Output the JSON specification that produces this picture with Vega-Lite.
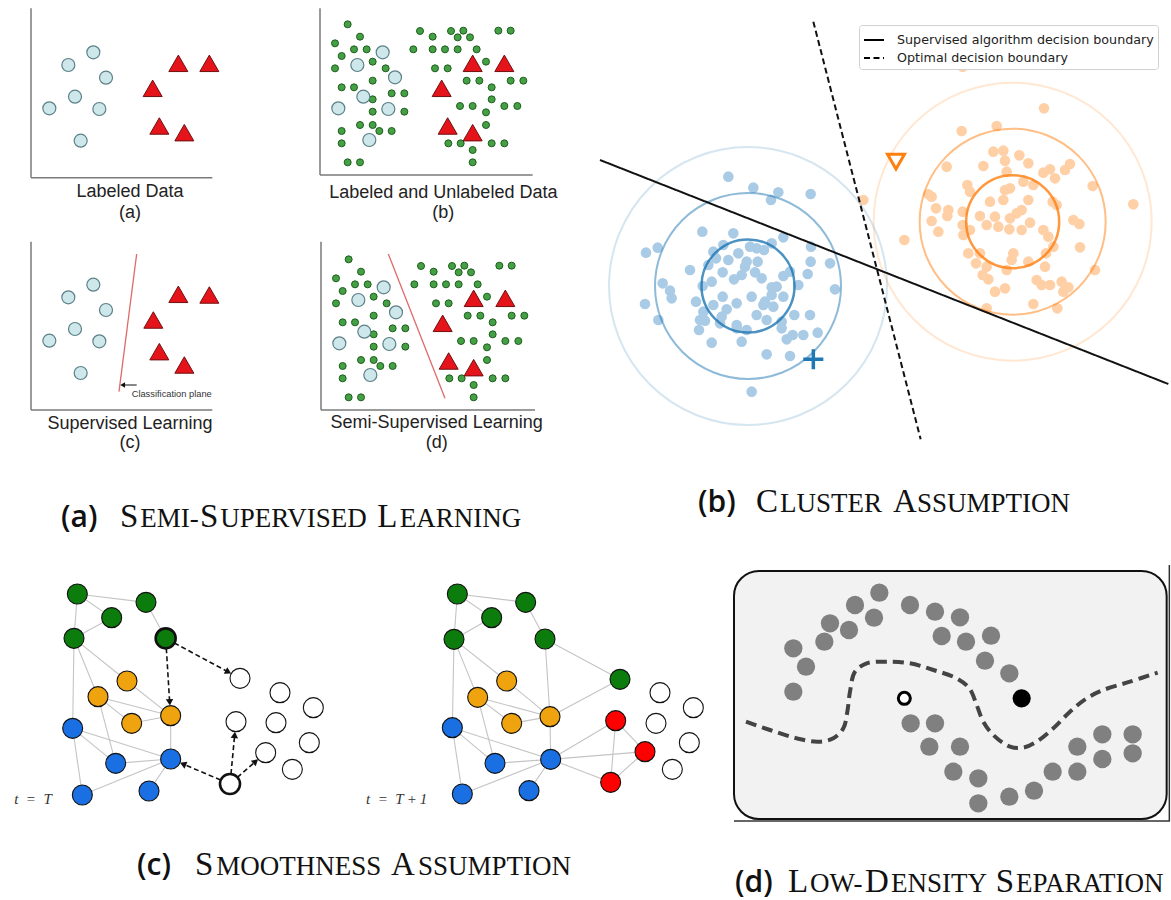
{
  "$schema": "https://vega.github.io/schema/vega-lite/v6.json",
  "padding": 0,
  "background": "white",
  "spacing": 0,
  "bounds": "full",
  "config": {"view": {"stroke": null}, "concat": {"spacing": 0}},
  "resolve": {"scale": {"strokeDash": "independent"}, "legend": {"strokeDash": "independent"}},
  "datasets": {
    "lab_circ": [{"x":187,"y":376},{"x":112,"y":338},{"x":225,"y":300},{"x":132,"y":243},{"x":55,"y":208},{"x":205,"y":206},{"x":149,"y":111}],
    "tri_a": [{"x":442,"y":343},{"x":535,"y":343},{"x":365,"y":268},{"x":385,"y":155},{"x":460,"y":135}],
    "tri_c": [{"x":442,"y":347},{"x":535,"y":345},{"x":367,"y":270},{"x":385,"y":175},{"x":460,"y":135}],
    "bd_circ": [{"x":188,"y":368},{"x":112,"y":330},{"x":225,"y":293},{"x":130,"y":235},{"x":55,"y":200},{"x":205,"y":198},{"x":148,"y":105}],
    "bd_tri": [{"x":458,"y":335},{"x":553,"y":335},{"x":365,"y":260},{"x":383,"y":147},{"x":458,"y":127}],
    "bd_green": [{"x":83,"y":452},{"x":120,"y":415},{"x":45,"y":395},{"x":300,"y":432},{"x":338,"y":415},{"x":393,"y":432},{"x":430,"y":433},{"x":413,"y":413},{"x":450,"y":413},{"x":535,"y":433},{"x":572,"y":433},{"x":65,"y":357},{"x":102,"y":377},{"x":140,"y":377},{"x":280,"y":377},{"x":338,"y":377},{"x":375,"y":377},{"x":413,"y":377},{"x":470,"y":377},{"x":45,"y":320},{"x":158,"y":340},{"x":197,"y":320},{"x":345,"y":320},{"x":383,"y":320},{"x":498,"y":340},{"x":158,"y":283},{"x":440,"y":283},{"x":478,"y":283},{"x":572,"y":283},{"x":610,"y":283},{"x":65,"y":263},{"x":102,"y":263},{"x":215,"y":245},{"x":253,"y":245},{"x":515,"y":263},{"x":158,"y":227},{"x":515,"y":227},{"x":158,"y":190},{"x":253,"y":190},{"x":420,"y":207},{"x":458,"y":207},{"x":553,"y":207},{"x":592,"y":207},{"x":498,"y":188},{"x":120,"y":150},{"x":158,"y":150},{"x":178,"y":132},{"x":215,"y":132},{"x":65,"y":132},{"x":498,"y":150},{"x":65,"y":95},{"x":385,"y":95},{"x":422,"y":95},{"x":515,"y":95},{"x":553,"y":95},{"x":458,"y":75},{"x":83,"y":38},{"x":120,"y":38},{"x":458,"y":38}],
    "blue_pts": [{"x":445,"y":1120},{"x":520,"y":1087},{"x":595,"y":1073},{"x":573,"y":1050},{"x":692,"y":1068},{"x":367,"y":955},{"x":460,"y":950},{"x":610,"y":938},{"x":575,"y":920},{"x":510,"y":910},{"x":530,"y":905},{"x":552,"y":900},{"x":693,"y":910},{"x":198,"y":892},{"x":233,"y":907},{"x":400,"y":895},{"x":430,"y":915},{"x":475,"y":890},{"x":500,"y":865},{"x":533,"y":865},{"x":445,"y":870},{"x":408,"y":875},{"x":385,"y":855},{"x":692,"y":865},{"x":750,"y":860},{"x":330,"y":840},{"x":428,"y":833},{"x":485,"y":825},{"x":525,"y":833},{"x":462,"y":812},{"x":395,"y":805},{"x":545,"y":815},{"x":610,"y":822},{"x":683,"y":828},{"x":630,"y":835},{"x":248,"y":800},{"x":270,"y":778},{"x":368,"y":792},{"x":495,"y":850},{"x":575,"y":788},{"x":590,"y":790},{"x":655,"y":795},{"x":275,"y":755},{"x":195,"y":738},{"x":348,"y":745},{"x":428,"y":760},{"x":515,"y":760},{"x":555,"y":745},{"x":575,"y":765},{"x":610,"y":760},{"x":765,"y":782},{"x":370,"y":715},{"x":400,"y":735},{"x":440,"y":722},{"x":470,"y":740},{"x":550,"y":735},{"x":580,"y":730},{"x":425,"y":700},{"x":360,"y":690},{"x":375,"y":688},{"x":420,"y":680},{"x":470,"y":675},{"x":530,"y":705},{"x":560,"y":690},{"x":605,"y":685},{"x":643,"y":705},{"x":690,"y":705},{"x":235,"y":690},{"x":357,"y":660},{"x":470,"y":665},{"x":500,"y":660},{"x":605,"y":665},{"x":620,"y":632},{"x":638,"y":645},{"x":670,"y":645},{"x":713,"y":652},{"x":395,"y":622},{"x":485,"y":625},{"x":560,"y":587},{"x":630,"y":582},{"x":515,"y":475}],
    "orange_pts": [{"x":850,"y":1050},{"x":1148,"y":1450},{"x":1392,"y":1325},{"x":1145,"y":1257},{"x":1250,"y":1272},{"x":1240,"y":1195},{"x":1270,"y":1198},{"x":1275,"y":1168},{"x":1318,"y":1184},{"x":1345,"y":1160},{"x":1210,"y":1152},{"x":1100,"y":1150},{"x":1470,"y":1158},{"x":1455,"y":1140},{"x":1280,"y":1135},{"x":1390,"y":1132},{"x":1410,"y":1142},{"x":1425,"y":1115},{"x":1330,"y":1105},{"x":1360,"y":1095},{"x":1538,"y":1092},{"x":1162,"y":1095},{"x":1170,"y":1075},{"x":1045,"y":1067},{"x":1055,"y":1060},{"x":1275,"y":1080},{"x":1290,"y":1085},{"x":1230,"y":1045},{"x":1270,"y":1050},{"x":1345,"y":1050},{"x":1418,"y":1045},{"x":1430,"y":1035},{"x":1068,"y":1025},{"x":1105,"y":1020},{"x":1102,"y":1002},{"x":1148,"y":1015},{"x":1200,"y":1002},{"x":1245,"y":1000},{"x":1290,"y":995},{"x":1310,"y":1010},{"x":1325,"y":1020},{"x":1350,"y":982},{"x":1220,"y":975},{"x":1255,"y":970},{"x":1480,"y":990},{"x":1498,"y":978},{"x":1055,"y":987},{"x":1148,"y":975},{"x":1170,"y":960},{"x":1075,"y":955},{"x":1150,"y":945},{"x":1288,"y":962},{"x":1325,"y":960},{"x":1390,"y":960},{"x":1405,"y":940},{"x":1420,"y":910},{"x":1500,"y":908},{"x":973,"y":930},{"x":1165,"y":890},{"x":1200,"y":890},{"x":1300,"y":890},{"x":1295,"y":870},{"x":1345,"y":865},{"x":1398,"y":890},{"x":1188,"y":860},{"x":1220,"y":850},{"x":1280,"y":840},{"x":1395,"y":850},{"x":1545,"y":840},{"x":1208,"y":825},{"x":1225,"y":812},{"x":1370,"y":810},{"x":1385,"y":795},{"x":1410,"y":795},{"x":1445,"y":805},{"x":1465,"y":788},{"x":1450,"y":775},{"x":1245,"y":775},{"x":1275,"y":785},{"x":1360,"y":738},{"x":1432,"y":725},{"x":1220,"y":725},{"x":1660,"y":1037}],
    "rings": [{"cluster":"blue","ring":"inner","x":504,"y":792},{"cluster":"blue","ring":"middle","x":504,"y":792},{"cluster":"blue","ring":"outer","x":504,"y":792},{"cluster":"orange","ring":"inner","x":1298,"y":985},{"cluster":"orange","ring":"middle","x":1298,"y":985},{"cluster":"orange","ring":"outer","x":1298,"y":985}],
    "bounds": [{"boundary":"Supervised algorithm decision boundary","x":60,"y":1170},{"boundary":"Supervised algorithm decision boundary","x":1765,"y":498},{"boundary":"Optimal decision boundary","x":700,"y":1585},{"boundary":"Optimal decision boundary","x":1022,"y":332}],
    "cnodes": [
      {"id":"T:G1","grp":"green","x":232,"y":918},{"id":"T:G2","grp":"green","x":438,"y":893},{"id":"T:G3","grp":"green","x":335,"y":847},{"id":"T:G4","grp":"green","x":222,"y":785},{"id":"T:G5","grp":"green","x":497,"y":785},
      {"id":"T:O1","grp":"orange","x":381,"y":657},{"id":"T:O2","grp":"orange","x":294,"y":610},{"id":"T:O3","grp":"orange","x":395,"y":530},{"id":"T:O4","grp":"orange","x":512,"y":553},
      {"id":"T:B1","grp":"blue","x":218,"y":515},{"id":"T:B2","grp":"blue","x":347,"y":410},{"id":"T:B3","grp":"blue","x":512,"y":423},{"id":"T:B4","grp":"blue","x":247,"y":315},{"id":"T:B5","grp":"blue","x":447,"y":327},
      {"id":"T:W1","grp":"white","x":720,"y":665},{"id":"T:W2","grp":"white","x":708,"y":535},{"id":"T:W3","grp":"white","x":797,"y":442},{"id":"T:W4","grp":"white","x":690,"y":348},{"id":"T:W5","grp":"white","x":840,"y":622},{"id":"T:W6","grp":"white","x":828,"y":532},{"id":"T:W7","grp":"white","x":940,"y":577},{"id":"T:W8","grp":"white","x":928,"y":472},{"id":"T:W9","grp":"white","x":877,"y":392},
      {"id":"U:G1","grp":"green","x":1372,"y":918},{"id":"U:G2","grp":"green","x":1577,"y":893},{"id":"U:G3","grp":"green","x":1475,"y":847},{"id":"U:G4","grp":"green","x":1362,"y":782},{"id":"U:G5","grp":"green","x":1635,"y":783},{"id":"U:G6","grp":"green","x":1860,"y":662},
      {"id":"U:O1","grp":"orange","x":1520,"y":657},{"id":"U:O2","grp":"orange","x":1433,"y":608},{"id":"U:O3","grp":"orange","x":1535,"y":530},{"id":"U:O4","grp":"orange","x":1650,"y":550},
      {"id":"U:B1","grp":"blue","x":1357,"y":517},{"id":"U:B2","grp":"blue","x":1485,"y":410},{"id":"U:B3","grp":"blue","x":1652,"y":422},{"id":"U:B4","grp":"blue","x":1387,"y":318},{"id":"U:B5","grp":"blue","x":1587,"y":328},
      {"id":"U:R1","grp":"red","x":1847,"y":538},{"id":"U:R2","grp":"red","x":1935,"y":445},{"id":"U:R3","grp":"red","x":1832,"y":353},
      {"id":"U:W1","grp":"white","x":1980,"y":622},{"id":"U:W2","grp":"white","x":1968,"y":530},{"id":"U:W3","grp":"white","x":2080,"y":577},{"id":"U:W4","grp":"white","x":2068,"y":472},{"id":"U:W5","grp":"white","x":2017,"y":392}
    ],
    "cedges": [
      {"s":"T:G1","t":"T:G2"},{"s":"T:G1","t":"T:G3"},{"s":"T:G1","t":"T:G4"},{"s":"T:G3","t":"T:G4"},{"s":"T:G2","t":"T:G5"},{"s":"T:G4","t":"T:O1"},{"s":"T:G4","t":"T:O2"},{"s":"T:G4","t":"T:B1"},{"s":"T:O1","t":"T:O4"},{"s":"T:O2","t":"T:O4"},{"s":"T:O2","t":"T:O3"},{"s":"T:O3","t":"T:O4"},{"s":"T:O2","t":"T:B2"},{"s":"T:O4","t":"T:B3"},{"s":"T:B1","t":"T:B2"},{"s":"T:B1","t":"T:B3"},{"s":"T:B1","t":"T:B4"},{"s":"T:B2","t":"T:B3"},{"s":"T:B3","t":"T:B4"},{"s":"T:B3","t":"T:B5"},
      {"s":"U:G1","t":"U:G2"},{"s":"U:G1","t":"U:G3"},{"s":"U:G1","t":"U:G4"},{"s":"U:G3","t":"U:G4"},{"s":"U:G2","t":"U:G5"},{"s":"U:G4","t":"U:O1"},{"s":"U:G4","t":"U:O2"},{"s":"U:G4","t":"U:B1"},{"s":"U:O1","t":"U:O4"},{"s":"U:O2","t":"U:O4"},{"s":"U:O2","t":"U:O3"},{"s":"U:O3","t":"U:O4"},{"s":"U:O2","t":"U:B2"},{"s":"U:O4","t":"U:B3"},{"s":"U:B1","t":"U:B2"},{"s":"U:B1","t":"U:B3"},{"s":"U:B1","t":"U:B4"},{"s":"U:B2","t":"U:B3"},{"s":"U:B3","t":"U:B4"},{"s":"U:B3","t":"U:B5"},
      {"s":"U:G5","t":"U:O4"},{"s":"U:G5","t":"U:G6"},{"s":"U:G6","t":"U:O4"},{"s":"U:B3","t":"U:R1"},{"s":"U:B3","t":"U:R2"},{"s":"U:B3","t":"U:R3"},{"s":"U:R1","t":"U:R2"},{"s":"U:R1","t":"U:R3"},{"s":"U:R2","t":"U:R3"}
    ],
    "carrows": [{"x":523,"y":771,"x2":685,"y2":684},{"x":499,"y":755,"x2":509,"y2":593},{"x":662,"y":360,"x2":549,"y2":408},{"x":693,"y":378,"x2":704,"y2":495},{"x":712,"y":368,"x2":767,"y2":416}],
    "dgray": [{"x":448,"y":922},{"x":375,"y":885},{"x":432,"y":847},{"x":300,"y":830},{"x":357,"y":810},{"x":190,"y":755},{"x":283,"y":775},{"x":228,"y":700},{"x":190,"y":625},{"x":540,"y":885},{"x":615,"y":865},{"x":690,"y":848},{"x":635,"y":792},{"x":708,"y":775},{"x":783,"y":793},{"x":765,"y":718},{"x":838,"y":680},{"x":542,"y":530},{"x":615,"y":530},{"x":598,"y":460},{"x":690,"y":460},{"x":670,"y":385},{"x":745,"y":365},{"x":745,"y":290},{"x":838,"y":310},{"x":912,"y":328},{"x":968,"y":385},{"x":1042,"y":385},{"x":1042,"y":460},{"x":1117,"y":423},{"x":1117,"y":497},{"x":1208,"y":497},{"x":1208,"y":440}],
    "dcurve": [{"x":48,"y":535},{"x":120,"y":510},{"x":200,"y":485},{"x":265,"y":475},{"x":310,"y":485},{"x":340,"y":515},{"x":352,"y":565},{"x":360,"y":625},{"x":375,"y":685},{"x":410,"y":710},{"x":470,"y":715},{"x":540,"y":710},{"x":610,"y":690},{"x":680,"y":665},{"x":718,"y":635},{"x":740,"y":585},{"x":760,"y":535},{"x":790,"y":495},{"x":840,"y":460},{"x":880,"y":457},{"x":920,"y":475},{"x":970,"y":515},{"x":1020,"y":565},{"x":1070,"y":605},{"x":1120,"y":630},{"x":1200,"y":655},{"x":1283,"y":682}],
    "cap_a": [{"x":360,"y":68,"label":"S","cap":"big"},{"x":421,"y":68,"label":"EMI-","cap":"small"},{"x":600,"y":68,"label":"S","cap":"big"},{"x":661,"y":68,"label":"UPERVISED","cap":"small"},{"x":1132,"y":68,"label":"L","cap":"big"},{"x":1199,"y":68,"label":"EARNING","cap":"small"}],
    "cap_b": [{"x":528,"y":115,"label":"C","cap":"big"},{"x":600,"y":115,"label":"LUSTER","cap":"small"},{"x":939,"y":115,"label":"A","cap":"big"},{"x":1011,"y":115,"label":"SSUMPTION","cap":"small"}],
    "cap_c": [{"x":585,"y":76,"label":"S","cap":"big"},{"x":649,"y":76,"label":"MOOTHNESS","cap":"small"},{"x":1173,"y":76,"label":"A","cap":"big"},{"x":1254,"y":76,"label":"SSUMPTION","cap":"small"}],
    "cap_d": [{"x":174,"y":25,"label":"L","cap":"big"},{"x":240,"y":25,"label":"OW-","cap":"small"},{"x":405,"y":25,"label":"D","cap":"big"},{"x":483,"y":25,"label":"ENSITY","cap":"small"},{"x":797,"y":25,"label":"S","cap":"big"},{"x":858,"y":25,"label":"EPARATION","cap":"small"}]
  },
  "vconcat": [
    {
      "hconcat": [
        {
          "vconcat": [
            {
              "hconcat": [
                {
                  "width": 290, "height": 230,
                  "encoding": {
                    "x": {"field": "x", "type": "quantitative", "scale": {"domain": [-93, 777], "nice": false, "zero": false}, "axis": null},
                    "y": {"field": "y", "type": "quantitative", "scale": {"domain": [-157, 533], "nice": false, "zero": false}, "axis": null}
                  },
                  "layer": [
                    {"data": {"values": [{"x":0,"y":0,"x2":0,"y2":508},{"x":0,"y":0,"x2":544,"y2":0}]}, "mark": {"type": "rule", "color": "#7a7a7a", "strokeWidth": 1.5}, "encoding": {"x2": {"field": "x2"}, "y2": {"field": "y2"}}},
                    {"data": {"name": "lab_circ"}, "mark": {"type": "point", "shape": "circle", "filled": true, "fill": "#cde7eb", "stroke": "#5c8087", "strokeWidth": 1.2, "size": 169, "opacity": 1}},
                    {"data": {"name": "tri_a"}, "mark": {"type": "point", "shape": "triangle-up", "filled": true, "fill": "#e5141b", "stroke": "#701010", "strokeWidth": 1, "size": 361, "opacity": 1}},
                    {"data": {"values": [{"x":297,"y":-42,"label":"Labeled Data"},{"x":297,"y":-107,"label":"(a)"}]}, "mark": {"type": "text", "font": "Liberation Sans", "fontSize": 18, "color": "#222222", "align": "center", "baseline": "middle"}, "encoding": {"text": {"field": "label", "type": "nominal"}}}
                  ]
                },
                {
                  "width": 290, "height": 230,
                  "encoding": {
                    "x": {"field": "x", "type": "quantitative", "scale": {"domain": [-90, 780], "nice": false, "zero": false}, "axis": null},
                    "y": {"field": "y", "type": "quantitative", "scale": {"domain": [-165, 525], "nice": false, "zero": false}, "axis": null}
                  },
                  "layer": [
                    {"data": {"values": [{"x":0,"y":0,"x2":0,"y2":500},{"x":0,"y":0,"x2":638,"y2":0}]}, "mark": {"type": "rule", "color": "#7a7a7a", "strokeWidth": 1.5}, "encoding": {"x2": {"field": "x2"}, "y2": {"field": "y2"}}},
                    {"data": {"name": "bd_green"}, "mark": {"type": "point", "shape": "circle", "filled": true, "fill": "#45a045", "stroke": "#1d5e1d", "strokeWidth": 1, "size": 49, "opacity": 1}},
                    {"data": {"name": "bd_circ"}, "mark": {"type": "point", "shape": "circle", "filled": true, "fill": "#cde7eb", "stroke": "#5c8087", "strokeWidth": 1.2, "size": 169, "opacity": 1}},
                    {"data": {"name": "bd_tri"}, "mark": {"type": "point", "shape": "triangle-up", "filled": true, "fill": "#e5141b", "stroke": "#701010", "strokeWidth": 1, "size": 361, "opacity": 1}},
                    {"data": {"values": [{"x":370,"y":-55,"label":"Labeled and Unlabeled Data"},{"x":370,"y":-115,"label":"(b)"}]}, "mark": {"type": "text", "font": "Liberation Sans", "fontSize": 18, "color": "#222222", "align": "center", "baseline": "middle"}, "encoding": {"text": {"field": "label", "type": "nominal"}}}
                  ]
                }
              ],
              "spacing": 0, "bounds": "flush"
            },
            {
              "hconcat": [
                {
                  "width": 290, "height": 235,
                  "encoding": {
                    "x": {"field": "x", "type": "quantitative", "scale": {"domain": [-93, 777], "nice": false, "zero": false}, "axis": null},
                    "y": {"field": "y", "type": "quantitative", "scale": {"domain": [-165, 540], "nice": false, "zero": false}, "axis": null}
                  },
                  "layer": [
                    {"data": {"values": [{"x":0,"y":0,"x2":0,"y2":505},{"x":0,"y":0,"x2":544,"y2":0}]}, "mark": {"type": "rule", "color": "#7a7a7a", "strokeWidth": 1.5}, "encoding": {"x2": {"field": "x2"}, "y2": {"field": "y2"}}},
                    {"data": {"values": [{"x":317,"y":468,"x2":264,"y2":55}]}, "mark": {"type": "rule", "color": "#e06a6a", "strokeWidth": 1.3}, "encoding": {"x2": {"field": "x2"}, "y2": {"field": "y2"}}},
                    {"data": {"values": [{"x":317,"y":75,"x2":280,"y2":75}]}, "mark": {"type": "rule", "color": "#111111", "strokeWidth": 1}, "encoding": {"x2": {"field": "x2"}, "y2": {"field": "y2"}}},
                    {"data": {"values": [{"x":275,"y":75}]}, "mark": {"type": "point", "shape": "triangle-left", "filled": true, "color": "#111111", "size": 30, "opacity": 1}},
                    {"data": {"name": "lab_circ"}, "mark": {"type": "point", "shape": "circle", "filled": true, "fill": "#cde7eb", "stroke": "#5c8087", "strokeWidth": 1.2, "size": 169, "opacity": 1}},
                    {"data": {"name": "tri_c"}, "mark": {"type": "point", "shape": "triangle-up", "filled": true, "fill": "#e5141b", "stroke": "#701010", "strokeWidth": 1, "size": 361, "opacity": 1}},
                    {"data": {"values": [{"x":302,"y":47,"label":"Classification plane"}]}, "mark": {"type": "text", "font": "Liberation Sans", "fontSize": 9.3, "color": "#333333", "align": "left", "baseline": "middle"}, "encoding": {"text": {"field": "label", "type": "nominal"}}},
                    {"data": {"values": [{"x":297,"y":-43,"label":"Supervised Learning"},{"x":297,"y":-100,"label":"(c)"}]}, "mark": {"type": "text", "font": "Liberation Sans", "fontSize": 18, "color": "#222222", "align": "center", "baseline": "middle"}, "encoding": {"text": {"field": "label", "type": "nominal"}}}
                  ]
                },
                {
                  "width": 290, "height": 235,
                  "encoding": {
                    "x": {"field": "x", "type": "quantitative", "scale": {"domain": [-93, 777], "nice": false, "zero": false}, "axis": null},
                    "y": {"field": "y", "type": "quantitative", "scale": {"domain": [-165, 540], "nice": false, "zero": false}, "axis": null}
                  },
                  "layer": [
                    {"data": {"values": [{"x":0,"y":0,"x2":0,"y2":505},{"x":0,"y":0,"x2":642,"y2":0}]}, "mark": {"type": "rule", "color": "#7a7a7a", "strokeWidth": 1.5}, "encoding": {"x2": {"field": "x2"}, "y2": {"field": "y2"}}},
                    {"data": {"values": [{"x":202,"y":468,"x2":372,"y2":35}]}, "mark": {"type": "rule", "color": "#e06a6a", "strokeWidth": 1.3}, "encoding": {"x2": {"field": "x2"}, "y2": {"field": "y2"}}},
                    {"data": {"name": "bd_green"}, "mark": {"type": "point", "shape": "circle", "filled": true, "fill": "#45a045", "stroke": "#1d5e1d", "strokeWidth": 1, "size": 49, "opacity": 1}},
                    {"data": {"name": "bd_circ"}, "mark": {"type": "point", "shape": "circle", "filled": true, "fill": "#cde7eb", "stroke": "#5c8087", "strokeWidth": 1.2, "size": 169, "opacity": 1}},
                    {"data": {"name": "bd_tri"}, "mark": {"type": "point", "shape": "triangle-up", "filled": true, "fill": "#e5141b", "stroke": "#701010", "strokeWidth": 1, "size": 361, "opacity": 1}},
                    {"data": {"values": [{"x":347,"y":-40,"label":"Semi-Supervised Learning"},{"x":347,"y":-100,"label":"(d)"}]}, "mark": {"type": "text", "font": "Liberation Sans", "fontSize": 18, "color": "#222222", "align": "center", "baseline": "middle"}, "encoding": {"text": {"field": "label", "type": "nominal"}}}
                  ]
                }
              ],
              "spacing": 0, "bounds": "flush"
            },
            {
              "width": 580, "height": 85,
              "encoding": {
                "x": {"field": "x", "type": "quantitative", "scale": {"domain": [0, 1740], "nice": false, "zero": false}, "axis": null},
                "y": {"field": "y", "type": "quantitative", "scale": {"domain": [0, 255], "nice": false, "zero": false}, "axis": null},
                "text": {"field": "label", "type": "nominal"}
              },
              "layer": [
                {"data": {"values": [{"x":183,"y":68,"label":"(a)"}]}, "mark": {"type": "text", "font": "Open Sans", "fontWeight": 600, "fontSize": 30, "color": "#111111", "align": "left", "baseline": "alphabetic"}},
                {"data": {"name": "cap_a"}, "transform": [{"filter": "datum.cap === 'big'"}], "mark": {"type": "text", "font": "Liberation Serif", "fontSize": 33, "color": "#111111", "align": "left", "baseline": "alphabetic"}},
                {"data": {"name": "cap_a"}, "transform": [{"filter": "datum.cap === 'small'"}], "mark": {"type": "text", "font": "Liberation Serif", "fontSize": 27, "color": "#111111", "align": "left", "baseline": "alphabetic"}}
              ]
            }
          ],
          "spacing": 0, "bounds": "full"
        },
        {
          "width": 591, "height": 550,
          "encoding": {
            "x": {"field": "x", "type": "quantitative", "scale": {"domain": [0, 1773], "nice": false, "zero": false}, "axis": null},
            "y": {"field": "y", "type": "quantitative", "scale": {"domain": [0, 1650], "nice": false, "zero": false}, "axis": null}
          },
          "layer": [
            {"data": {"name": "blue_pts"}, "mark": {"type": "point", "shape": "circle", "filled": true, "color": "#a9cbe6", "size": 112, "opacity": 1, "strokeWidth": 0}},
            {"data": {"name": "orange_pts"}, "mark": {"type": "point", "shape": "circle", "filled": true, "color": "#ffcfa6", "size": 112, "opacity": 1, "strokeWidth": 0}},
            {"data": {"name": "rings"}, "transform": [{"filter": "datum.ring === 'outer'"}], "mark": {"type": "point", "shape": "circle", "filled": false, "strokeWidth": 2, "size": 77284, "opacity": 0.18},
             "encoding": {"stroke": {"field": "cluster", "type": "nominal", "scale": {"domain": ["blue", "orange"], "range": ["#1f77b4", "#ff7f0e"]}, "legend": null}}},
            {"data": {"name": "rings"}, "transform": [{"filter": "datum.ring === 'middle'"}], "mark": {"type": "point", "shape": "circle", "filled": false, "strokeWidth": 2, "size": 34596, "opacity": 0.5},
             "encoding": {"stroke": {"field": "cluster", "type": "nominal", "scale": {"domain": ["blue", "orange"], "range": ["#1f77b4", "#ff7f0e"]}, "legend": null}}},
            {"data": {"name": "rings"}, "transform": [{"filter": "datum.ring === 'inner'"}], "mark": {"type": "point", "shape": "circle", "filled": false, "strokeWidth": 2.5, "size": 8649, "opacity": 0.8},
             "encoding": {"stroke": {"field": "cluster", "type": "nominal", "scale": {"domain": ["blue", "orange"], "range": ["#1f77b4", "#ff7f0e"]}, "legend": null}}},
            {"data": {"name": "bounds"}, "mark": {"type": "line", "color": "#111111", "strokeWidth": 2},
             "encoding": {
               "strokeDash": {"field": "boundary", "type": "nominal",
                 "scale": {"domain": ["Supervised algorithm decision boundary", "Optimal decision boundary"], "range": [[1, 0], [6, 3.5]]},
                 "legend": {"title": null, "orient": "none", "legendX": 279, "legendY": 25, "symbolType": "stroke", "symbolSize": 400, "symbolStrokeWidth": 1.8, "symbolStrokeColor": "#000000", "labelFont": "DejaVu Sans", "labelFontSize": 12.7, "labelColor": "#222222", "labelLimit": 0, "fillColor": "#ffffff", "strokeColor": "#d0d0d0", "cornerRadius": 3, "padding": 4, "rowPadding": 0, "labelOffset": 12}}
             }},
            {"data": {"values": [{"x":700,"y":572}]}, "mark": {"type": "point", "shape": "M-1,0H1M0,-1V1", "filled": false, "stroke": "#1f77b4", "strokeWidth": 3.5, "size": 400, "opacity": 1}},
            {"data": {"values": [{"x":948,"y":1165}]}, "mark": {"type": "point", "shape": "triangle-down", "filled": false, "stroke": "#ff7f0e", "strokeWidth": 3, "size": 289, "opacity": 1}},
            {"data": {"values": [{"x":354,"y":115,"label":"(b)"}]}, "mark": {"type": "text", "font": "Open Sans", "fontWeight": 600, "fontSize": 30, "color": "#111111", "align": "left", "baseline": "alphabetic"}, "encoding": {"text": {"field": "label", "type": "nominal"}}},
            {"data": {"name": "cap_b"}, "transform": [{"filter": "datum.cap === 'big'"}], "mark": {"type": "text", "font": "Liberation Serif", "fontSize": 33, "color": "#111111", "align": "left", "baseline": "alphabetic"}, "encoding": {"text": {"field": "label", "type": "nominal"}}},
            {"data": {"name": "cap_b"}, "transform": [{"filter": "datum.cap === 'small'"}], "mark": {"type": "text", "font": "Liberation Serif", "fontSize": 27, "color": "#111111", "align": "left", "baseline": "alphabetic"}, "encoding": {"text": {"field": "label", "type": "nominal"}}}
          ]
        }
      ],
      "spacing": 0, "bounds": "full",
      "resolve": {"scale": {"strokeDash": "independent"}, "legend": {"strokeDash": "independent"}}
    },
    {
      "hconcat": [
        {
          "width": 730, "height": 350,
          "encoding": {
            "x": {"field": "x", "type": "quantitative", "scale": {"domain": [0, 2190], "nice": false, "zero": false}, "axis": null},
            "y": {"field": "y", "type": "quantitative", "scale": {"domain": [0, 1050], "nice": false, "zero": false}, "axis": null}
          },
          "layer": [
            {"data": {"name": "cedges"},
             "transform": [
               {"lookup": "s", "from": {"data": {"name": "cnodes"}, "key": "id", "fields": ["x", "y"]}, "as": ["x", "y"]},
               {"lookup": "t", "from": {"data": {"name": "cnodes"}, "key": "id", "fields": ["x", "y"]}, "as": ["x2", "y2"]}
             ],
             "mark": {"type": "rule", "color": "#c4c4c4", "strokeWidth": 1.1},
             "encoding": {"x2": {"field": "x2"}, "y2": {"field": "y2"}}},
            {"data": {"name": "carrows"}, "mark": {"type": "rule", "color": "#111111", "strokeWidth": 1.6, "strokeDash": [5, 3]},
             "encoding": {"x2": {"field": "x2"}, "y2": {"field": "y2"}}},
            {"data": {"name": "carrows"},
             "transform": [{"calculate": "atan2(datum.x2 - datum.x, datum.y2 - datum.y) * 180 / PI", "as": "ang"}],
             "mark": {"type": "point", "shape": "triangle-up", "filled": true, "color": "#111111", "size": 55, "opacity": 1},
             "encoding": {
               "x": {"field": "x2", "type": "quantitative", "scale": {"domain": [0, 2190], "nice": false, "zero": false}, "axis": null},
               "y": {"field": "y2", "type": "quantitative", "scale": {"domain": [0, 1050], "nice": false, "zero": false}, "axis": null},
               "angle": {"field": "ang", "type": "quantitative", "scale": null}
             }},
            {"data": {"name": "cnodes"}, "mark": {"type": "point", "shape": "circle", "filled": true, "stroke": "#111111", "size": 400, "opacity": 1},
             "encoding": {
               "fill": {"field": "grp", "type": "nominal", "scale": {"domain": ["green", "orange", "blue", "red", "white"], "range": ["#0c7c0c", "#efa30e", "#1a70e2", "#ff0000", "#ffffff"]}, "legend": null},
               "strokeWidth": {"condition": {"test": "datum.id === 'T:G5' || datum.id === 'T:W4'", "value": 2.6}, "value": 1.1}
             }},
            {"data": {"values": [{"x":99,"y":302,"label":"t\u00a0\u00a0=\u00a0\u00a0T"},{"x":1190,"y":302,"label":"t\u00a0\u00a0=\u00a0\u00a0T\u2009+\u20091"}]},
             "mark": {"type": "text", "font": "Liberation Serif", "fontStyle": "italic", "fontSize": 15, "color": "#333333", "align": "center", "baseline": "middle"},
             "encoding": {"text": {"field": "label", "type": "nominal"}}},
            {"data": {"values": [{"x":411,"y":76,"label":"(c)"}]}, "mark": {"type": "text", "font": "Open Sans", "fontWeight": 600, "fontSize": 30, "color": "#111111", "align": "left", "baseline": "alphabetic"}, "encoding": {"text": {"field": "label", "type": "nominal"}}},
            {"data": {"name": "cap_c"}, "transform": [{"filter": "datum.cap === 'big'"}], "mark": {"type": "text", "font": "Liberation Serif", "fontSize": 33, "color": "#111111", "align": "left", "baseline": "alphabetic"}, "encoding": {"text": {"field": "label", "type": "nominal"}}},
            {"data": {"name": "cap_c"}, "transform": [{"filter": "datum.cap === 'small'"}], "mark": {"type": "text", "font": "Liberation Serif", "fontSize": 27, "color": "#111111", "align": "left", "baseline": "alphabetic"}, "encoding": {"text": {"field": "label", "type": "nominal"}}}
          ]
        },
        {
          "width": 441, "height": 350,
          "encoding": {
            "x": {"field": "x", "type": "quantitative", "scale": {"domain": [0, 1323], "nice": false, "zero": false}, "axis": null},
            "y": {"field": "y", "type": "quantitative", "scale": {"domain": [0, 1050], "nice": false, "zero": false}, "axis": null}
          },
          "layer": [
            {"data": {"values": [{"x":12,"x2":1310,"y":987,"y2":243}]}, "mark": {"type": "rect", "fill": "#f2f2f2", "stroke": "#111111", "strokeWidth": 2, "cornerRadius": 25}, "encoding": {"x2": {"field": "x2"}, "y2": {"field": "y2"}}},
            {"data": {"values": [{"x":1318,"y":1005,"x2":1318,"y2":237},{"x":12,"y":237,"x2":1320,"y2":237}]}, "mark": {"type": "rule", "color": "#333333", "strokeWidth": 1.5}, "encoding": {"x2": {"field": "x2"}, "y2": {"field": "y2"}}},
            {"data": {"name": "dcurve"}, "mark": {"type": "line", "color": "#444444", "strokeWidth": 4, "strokeDash": [11, 6], "interpolate": "catmull-rom"}, "encoding": {}},
            {"data": {"name": "dgray"}, "mark": {"type": "point", "shape": "circle", "filled": true, "color": "#808080", "size": 335, "opacity": 1, "strokeWidth": 0}},
            {"data": {"values": [{"x":523,"y":605}]}, "mark": {"type": "point", "shape": "circle", "filled": false, "fill": "#ffffff", "stroke": "#000000", "strokeWidth": 3, "size": 144, "opacity": 1}},
            {"data": {"values": [{"x":875,"y":605}]}, "mark": {"type": "point", "shape": "circle", "filled": true, "color": "#000000", "size": 330, "opacity": 1}},
            {"data": {"values": [{"x":15,"y":25,"label":"(d)"}]}, "mark": {"type": "text", "font": "Open Sans", "fontWeight": 600, "fontSize": 30, "color": "#111111", "align": "left", "baseline": "alphabetic"}, "encoding": {"text": {"field": "label", "type": "nominal"}}},
            {"data": {"name": "cap_d"}, "transform": [{"filter": "datum.cap === 'big'"}], "mark": {"type": "text", "font": "Liberation Serif", "fontSize": 33, "color": "#111111", "align": "left", "baseline": "alphabetic"}, "encoding": {"text": {"field": "label", "type": "nominal"}}},
            {"data": {"name": "cap_d"}, "transform": [{"filter": "datum.cap === 'small'"}], "mark": {"type": "text", "font": "Liberation Serif", "fontSize": 27, "color": "#111111", "align": "left", "baseline": "alphabetic"}, "encoding": {"text": {"field": "label", "type": "nominal"}}}
          ]
        }
      ],
      "spacing": 0, "bounds": "flush"
    }
  ]
}
